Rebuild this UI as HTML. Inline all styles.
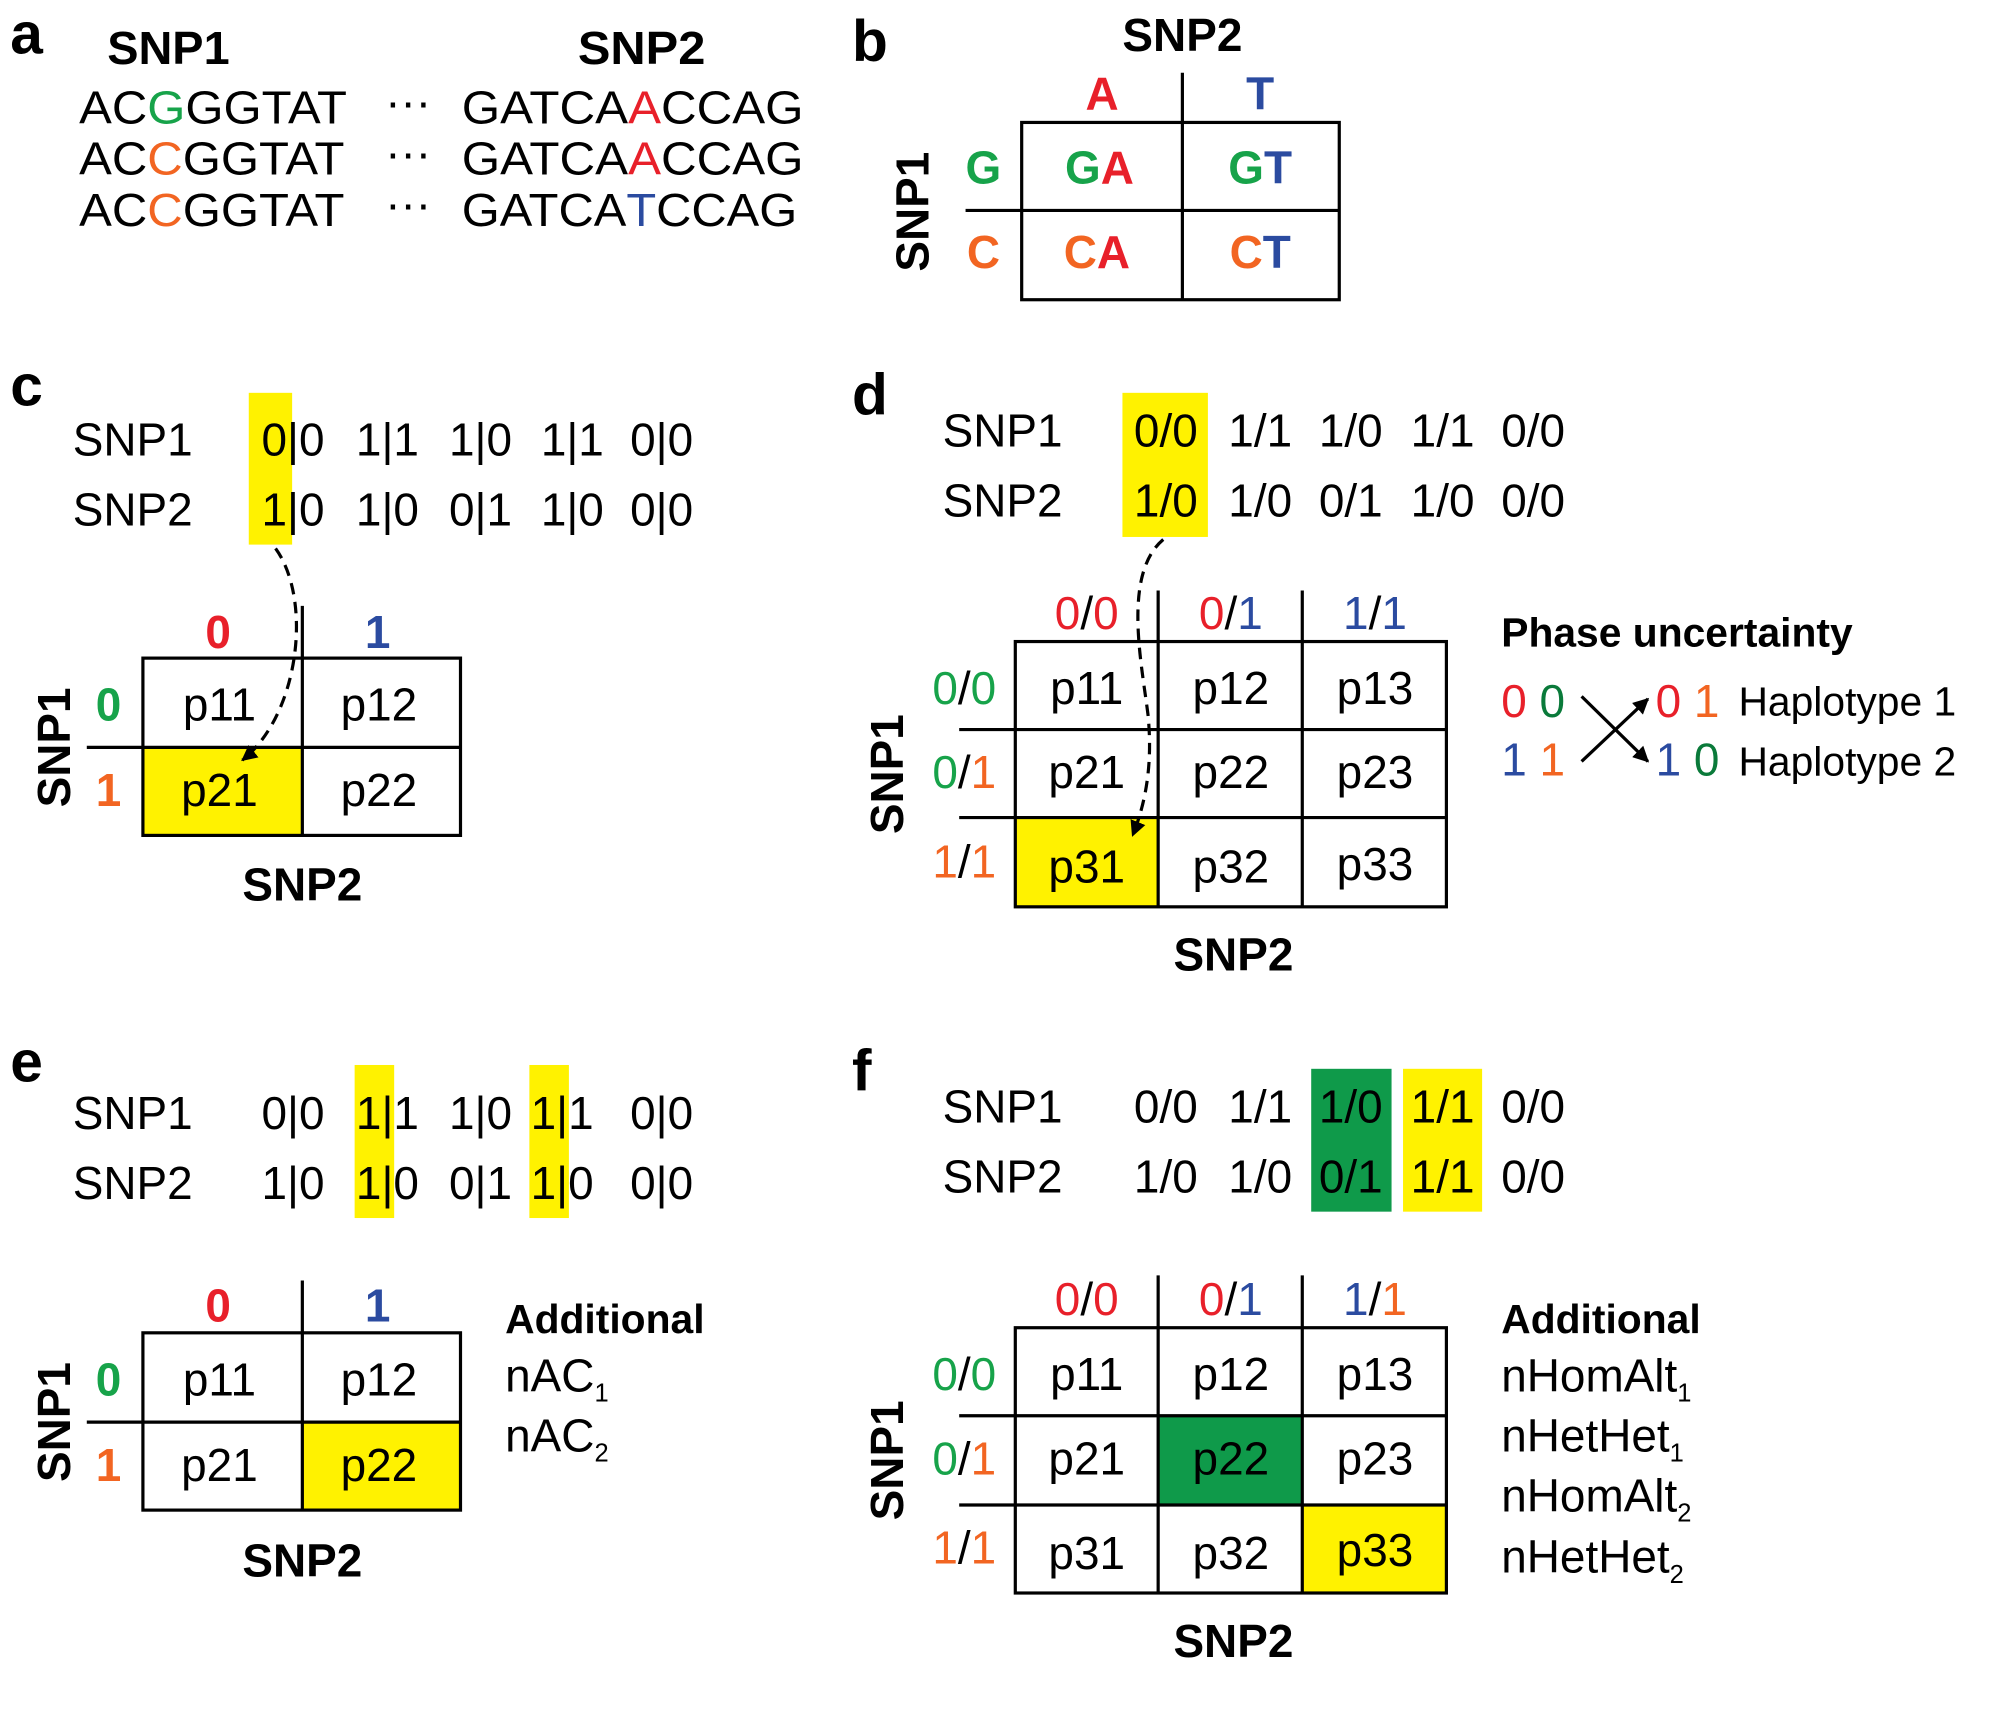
<!DOCTYPE html>
<html><head><meta charset="utf-8"><style>
html,body{margin:0;padding:0;background:#fff}
svg{display:block}
text{font-family:"Liberation Sans",Arial,sans-serif}
.b{font-weight:bold}
</style></head><body>
<svg width="2000" height="1718" viewBox="0 0 1568 1347" xmlns="http://www.w3.org/2000/svg">
<defs><marker id="ah" viewBox="0 0 10 10" refX="9" refY="5" markerWidth="5" markerHeight="5" orient="auto"><path d="M0,0 L10,5 L0,10 z" fill="#000"/></marker></defs>
<style>
.G{fill:#17a34a}.O{fill:#f26522}.R{fill:#e8202a}.B{fill:#2b4ba0}.D{fill:#0a7a3a}
.s{font-size:36px}.l{font-size:46px;font-weight:bold}.h{font-size:36px;font-weight:bold}
.ln{stroke:#000;stroke-width:2.5;fill:none}
.t32{font-size:32px}
</style>

<!-- Panel a -->
<g>
<text class="l" x="8" y="42">a</text>
<text class="h" x="84" y="50" textLength="96" lengthAdjust="spacingAndGlyphs">SNP1</text>
<text class="h" x="453" y="50" textLength="100" lengthAdjust="spacingAndGlyphs">SNP2</text>
<text class="s" x="62" y="97" textLength="210" lengthAdjust="spacingAndGlyphs">AC<tspan class="G">G</tspan>GGTAT</text>
<text class="s" x="62" y="137" textLength="208" lengthAdjust="spacingAndGlyphs">AC<tspan class="O">C</tspan>GGTAT</text>
<text class="s" x="62" y="177" textLength="208" lengthAdjust="spacingAndGlyphs">AC<tspan class="O">C</tspan>GGTAT</text>
<text class="s" x="302" y="92">···</text><text class="s" x="302" y="132">···</text><text class="s" x="302" y="172">···</text>
<text class="s" x="362" y="97" textLength="268" lengthAdjust="spacingAndGlyphs">GATCA<tspan class="R">A</tspan>CCAG</text>
<text class="s" x="362" y="137" textLength="268" lengthAdjust="spacingAndGlyphs">GATCA<tspan class="R">A</tspan>CCAG</text>
<text class="s" x="362" y="177" textLength="263" lengthAdjust="spacingAndGlyphs">GATCA<tspan class="B">T</tspan>CCAG</text>
</g>

<!-- Panel b -->
<g>
<text class="l" x="668" y="48">b</text>
<text class="h" x="927" y="40" text-anchor="middle">SNP2</text>
<text class="h R" x="864" y="86" text-anchor="middle">A</text>
<text class="h B" x="988" y="86" text-anchor="middle">T</text>
<rect x="801" y="96" width="249" height="139" class="ln"/>
<line x1="927" y1="57" x2="927" y2="235" class="ln"/>
<line x1="757" y1="165" x2="1050" y2="165" class="ln"/>
<text class="h G" x="771" y="144" text-anchor="middle">G</text>
<text class="h O" x="771" y="210" text-anchor="middle">C</text>
<text class="h" x="862" y="144" text-anchor="middle"><tspan class="G">G</tspan><tspan class="R">A</tspan></text>
<text class="h" x="988" y="144" text-anchor="middle"><tspan class="G">G</tspan><tspan class="B">T</tspan></text>
<text class="h" x="860" y="210" text-anchor="middle"><tspan class="O">C</tspan><tspan class="R">A</tspan></text>
<text class="h" x="988" y="210" text-anchor="middle"><tspan class="O">C</tspan><tspan class="B">T</tspan></text>
<text class="h" transform="translate(728,166) rotate(-90)" text-anchor="middle">SNP1</text>
</g>

<!-- Panel c -->
<g>
<text class="l" x="8" y="318">c</text>
<rect x="195" y="308" width="34" height="119" fill="#fff200"/>
<text class="s" x="57" y="357">SNP1</text><text class="s" x="57" y="412">SNP2</text>
<text class="s" x="205" y="357">0|0</text><text class="s" x="279" y="357">1|1</text><text class="s" x="352" y="357">1|0</text><text class="s" x="424" y="357">1|1</text><text class="s" x="494" y="357">0|0</text>
<text class="s" x="205" y="412">1|0</text><text class="s" x="279" y="412">1|0</text><text class="s" x="352" y="412">0|1</text><text class="s" x="424" y="412">1|0</text><text class="s" x="494" y="412">0|0</text>
<rect x="112" y="586" width="125" height="69" fill="#fff200"/>
<rect x="112" y="516" width="249" height="139" class="ln"/>
<line x1="237" y1="475" x2="237" y2="655" class="ln"/>
<line x1="68" y1="586" x2="361" y2="586" class="ln"/>
<text class="h R" x="171" y="508" text-anchor="middle">0</text><text class="h B" x="296" y="508" text-anchor="middle">1</text>
<text class="h G" x="85" y="565" text-anchor="middle">0</text><text class="h O" x="85" y="632" text-anchor="middle">1</text>
<text class="s" x="172" y="565" text-anchor="middle">p11</text><text class="s" x="297" y="565" text-anchor="middle">p12</text>
<text class="s" x="172" y="632" text-anchor="middle">p21</text><text class="s" x="297" y="632" text-anchor="middle">p22</text>
<text class="h" transform="translate(55,586) rotate(-90)" text-anchor="middle">SNP1</text>
<text class="h" x="237" y="706" text-anchor="middle">SNP2</text>
<path d="M216,430 C245,470 235,560 190,596" stroke="#000" stroke-width="2.5" fill="none" stroke-dasharray="9,6" marker-end="url(#ah)"/>
</g>

<!-- Panel d -->
<g>
<text class="l" x="668" y="325">d</text>
<rect x="880" y="308" width="67" height="113" fill="#fff200"/>
<text class="s" x="739" y="350">SNP1</text><text class="s" x="739" y="405">SNP2</text>
<text class="s" x="889" y="350">0/0</text><text class="s" x="963" y="350">1/1</text><text class="s" x="1034" y="350">1/0</text><text class="s" x="1106" y="350">1/1</text><text class="s" x="1177" y="350">0/0</text>
<text class="s" x="889" y="405">1/0</text><text class="s" x="963" y="405">1/0</text><text class="s" x="1034" y="405">0/1</text><text class="s" x="1106" y="405">1/0</text><text class="s" x="1177" y="405">0/0</text>
<rect x="796" y="641" width="112" height="70" fill="#fff200"/>
<rect x="796" y="503" width="338" height="208" class="ln"/>
<line x1="908" y1="463" x2="908" y2="711" class="ln"/><line x1="1021" y1="463" x2="1021" y2="711" class="ln"/>
<line x1="752" y1="572" x2="1134" y2="572" class="ln"/><line x1="752" y1="641" x2="1134" y2="641" class="ln"/>
<text class="s" x="852" y="493" text-anchor="middle"><tspan class="R">0</tspan>/<tspan class="R">0</tspan></text>
<text class="s" x="965" y="493" text-anchor="middle"><tspan class="R">0</tspan>/<tspan class="B">1</tspan></text>
<text class="s" x="1078" y="493" text-anchor="middle"><tspan class="B">1</tspan>/<tspan class="B">1</tspan></text>
<text class="s" x="756" y="552" text-anchor="middle"><tspan class="G">0</tspan>/<tspan class="G">0</tspan></text>
<text class="s" x="756" y="618" text-anchor="middle"><tspan class="G">0</tspan>/<tspan class="O">1</tspan></text>
<text class="s" x="756" y="688" text-anchor="middle"><tspan class="O">1</tspan>/<tspan class="O">1</tspan></text>
<text class="s" x="852" y="552" text-anchor="middle">p11</text><text class="s" x="965" y="552" text-anchor="middle">p12</text><text class="s" x="1078" y="552" text-anchor="middle">p13</text>
<text class="s" x="852" y="618" text-anchor="middle">p21</text><text class="s" x="965" y="618" text-anchor="middle">p22</text><text class="s" x="1078" y="618" text-anchor="middle">p23</text>
<text class="s" x="852" y="692" text-anchor="middle">p31</text><text class="s" x="965" y="692" text-anchor="middle">p32</text><text class="s" x="1078" y="690" text-anchor="middle">p33</text>
<text class="h" transform="translate(708,607) rotate(-90)" text-anchor="middle">SNP1</text>
<text class="h" x="967" y="761" text-anchor="middle">SNP2</text>
<path d="M912,423 C880,450 895,520 900,560 C904,600 898,630 888,655" stroke="#000" stroke-width="2.5" fill="none" stroke-dasharray="9,6" marker-end="url(#ah)"/>
<text x="1177" y="507" style="font-size:32px;font-weight:bold">Phase uncertainty</text>
<text class="s" x="1177" y="562"><tspan class="R">0</tspan> <tspan class="D">0</tspan></text>
<text class="s" x="1177" y="608"><tspan class="B">1</tspan> <tspan class="O">1</tspan></text>
<text class="s" x="1298" y="562"><tspan class="R">0</tspan> <tspan class="O">1</tspan></text>
<text class="s" x="1298" y="608"><tspan class="B">1</tspan> <tspan class="D">0</tspan></text>
<text class="t32" x="1363" y="561">Haplotype 1</text>
<text class="t32" x="1363" y="608">Haplotype 2</text>
<line x1="1240" y1="546" x2="1292" y2="597" stroke="#000" stroke-width="2.5" marker-end="url(#ah)"/>
<line x1="1240" y1="597" x2="1292" y2="548" stroke="#000" stroke-width="2.5" marker-end="url(#ah)"/>
</g>

<!-- Panel e -->
<g>
<text class="l" x="8" y="848">e</text>
<rect x="278" y="835" width="31" height="120" fill="#fff200"/>
<rect x="415" y="835" width="31" height="120" fill="#fff200"/>
<text class="s" x="57" y="885">SNP1</text><text class="s" x="57" y="940">SNP2</text>
<text class="s" x="205" y="885">0|0</text><text class="s" x="279" y="885">1|1</text><text class="s" x="352" y="885">1|0</text><text class="s" x="416" y="885">1|1</text><text class="s" x="494" y="885">0|0</text>
<text class="s" x="205" y="940">1|0</text><text class="s" x="279" y="940">1|0</text><text class="s" x="352" y="940">0|1</text><text class="s" x="416" y="940">1|0</text><text class="s" x="494" y="940">0|0</text>
<rect x="237" y="1115" width="124" height="69" fill="#fff200"/>
<rect x="112" y="1045" width="249" height="139" class="ln"/>
<line x1="237" y1="1004" x2="237" y2="1184" class="ln"/>
<line x1="68" y1="1115" x2="361" y2="1115" class="ln"/>
<text class="h R" x="171" y="1036" text-anchor="middle">0</text><text class="h B" x="296" y="1036" text-anchor="middle">1</text>
<text class="h G" x="85" y="1094" text-anchor="middle">0</text><text class="h O" x="85" y="1161" text-anchor="middle">1</text>
<text class="s" x="172" y="1094" text-anchor="middle">p11</text><text class="s" x="297" y="1094" text-anchor="middle">p12</text>
<text class="s" x="172" y="1161" text-anchor="middle">p21</text><text class="s" x="297" y="1161" text-anchor="middle">p22</text>
<text class="h" transform="translate(55,1115) rotate(-90)" text-anchor="middle">SNP1</text>
<text class="h" x="237" y="1236" text-anchor="middle">SNP2</text>
<text x="396" y="1045" style="font-size:32px;font-weight:bold">Additional</text>
<text class="s" x="396" y="1091">nAC<tspan style="font-size:20px" dy="8">1</tspan></text>
<text class="s" x="396" y="1138">nAC<tspan style="font-size:20px" dy="8">2</tspan></text>
</g>

<!-- Panel f -->
<g>
<text class="l" x="668" y="855">f</text>
<rect x="1028" y="838" width="63" height="112" fill="#0f9a4a"/>
<rect x="1100" y="838" width="62" height="112" fill="#fff200"/>
<text class="s" x="739" y="880">SNP1</text><text class="s" x="739" y="935">SNP2</text>
<text class="s" x="889" y="880">0/0</text><text class="s" x="963" y="880">1/1</text><text class="s" x="1034" y="880">1/0</text><text class="s" x="1106" y="880">1/1</text><text class="s" x="1177" y="880">0/0</text>
<text class="s" x="889" y="935">1/0</text><text class="s" x="963" y="935">1/0</text><text class="s" x="1034" y="935">0/1</text><text class="s" x="1106" y="935">1/1</text><text class="s" x="1177" y="935">0/0</text>
<rect x="908" y="1110" width="113" height="70" fill="#0f9a4a"/>
<rect x="1021" y="1180" width="113" height="69" fill="#fff200"/>
<rect x="796" y="1041" width="338" height="208" class="ln"/>
<line x1="908" y1="1000" x2="908" y2="1249" class="ln"/><line x1="1021" y1="1000" x2="1021" y2="1249" class="ln"/>
<line x1="752" y1="1110" x2="1134" y2="1110" class="ln"/><line x1="752" y1="1180" x2="1134" y2="1180" class="ln"/>
<text class="s" x="852" y="1031" text-anchor="middle"><tspan class="R">0</tspan>/<tspan class="R">0</tspan></text>
<text class="s" x="965" y="1031" text-anchor="middle"><tspan class="R">0</tspan>/<tspan class="B">1</tspan></text>
<text class="s" x="1078" y="1031" text-anchor="middle"><tspan class="B">1</tspan>/<tspan class="O">1</tspan></text>
<text class="s" x="756" y="1090" text-anchor="middle"><tspan class="G">0</tspan>/<tspan class="G">0</tspan></text>
<text class="s" x="756" y="1156" text-anchor="middle"><tspan class="G">0</tspan>/<tspan class="O">1</tspan></text>
<text class="s" x="756" y="1226" text-anchor="middle"><tspan class="O">1</tspan>/<tspan class="O">1</tspan></text>
<text class="s" x="852" y="1090" text-anchor="middle">p11</text><text class="s" x="965" y="1090" text-anchor="middle">p12</text><text class="s" x="1078" y="1090" text-anchor="middle">p13</text>
<text class="s" x="852" y="1156" text-anchor="middle">p21</text><text class="s" x="965" y="1156" text-anchor="middle">p22</text><text class="s" x="1078" y="1156" text-anchor="middle">p23</text>
<text class="s" x="852" y="1230" text-anchor="middle">p31</text><text class="s" x="965" y="1230" text-anchor="middle">p32</text><text class="s" x="1078" y="1228" text-anchor="middle">p33</text>
<text class="h" transform="translate(708,1145) rotate(-90)" text-anchor="middle">SNP1</text>
<text class="h" x="967" y="1299" text-anchor="middle">SNP2</text>
<text x="1177" y="1045" style="font-size:32px;font-weight:bold">Additional</text>
<text class="s" x="1177" y="1091">nHomAlt<tspan style="font-size:20px" dy="8">1</tspan></text>
<text class="s" x="1177" y="1138">nHetHet<tspan style="font-size:20px" dy="8">1</tspan></text>
<text class="s" x="1177" y="1185">nHomAlt<tspan style="font-size:20px" dy="8">2</tspan></text>
<text class="s" x="1177" y="1233">nHetHet<tspan style="font-size:20px" dy="8">2</tspan></text>
</g>
</svg>
</body></html>
